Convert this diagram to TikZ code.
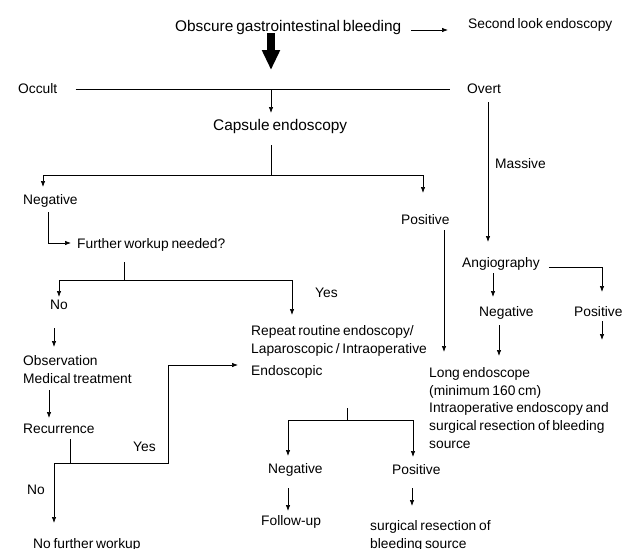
\documentclass[tikz,border=0pt]{standalone}
\usepackage{fontspec}
\setmainfont{Liberation Sans}[WordSpace=0.7]
\usepackage{tikz}
\usetikzlibrary{calc}
\usetikzlibrary{arrows.meta}
\tikzset{>=latex}
\tikzset{
  txt/.style={anchor=base west,inner sep=0pt,align=left,font=\fontsize{13.8}{17.6}\selectfont},
  big/.style={txt,font=\fontsize{15.4}{18}\selectfont},
  link/.style={-{Latex[length=6pt,width=4.5pt]},line width=0.7pt},
  plain/.style={line width=0.7pt},
  fat/.style={-{Triangle[length=20pt,width=17pt]},line width=7.5pt}
}

\begin{document}
\begin{tikzpicture}[x=1pt,y=-1pt]
\useasboundingbox (0,0) rectangle (622,549);
% top
\node[big] (obgi) at (175,31) {Obscure gastrointestinal bleeding};
\node[txt] (second) at (468,28) {Second look endoscopy};
\node[txt] (occult) at (18,93) {Occult};
\node[txt] (overt) at (467,93) {Overt};
\node[big] (capsule) at (213,130) {Capsule endoscopy};
\coordinate (hub) at (271,89);
\draw[link] ($(obgi.base east)+(10,-1)$) -- ($(second.base west)+(-20,2)$);
\draw[fat] ($(obgi.base west)+(96,2)$) -- ($(hub)+(0,-19)$);
\draw[plain] ($(occult.base east)+(18,-4)$) -- ($(overt.base west)+(-17,-4)$);
\draw[link] (hub) -- ($(capsule.base west)+(58,-17)$);
% capsule branches
\node[txt] (cneg) at (23,204) {Negative};
\node[txt] (cpos) at (401,224) {Positive};
\coordinate (csplit) at (271,175);
\draw[plain] ($(capsule.base west)+(58,15)$) -- (csplit);
\draw[link] (csplit) -| ($(cneg.base west)+(20,-17)$);
\draw[link] (csplit) -| ($(cpos.base west)+(22,-31)$);
\node[txt] (further) at (77,248) {Further workup needed?};
\draw[link] ($(cneg.base west)+(25,8)$) |- ($(further.base west)+(-6,-5)$);
% further workup
\node[txt] (fno) at (50,309) {No};
\node[txt] (yesA) at (315,297) {Yes};
\node[txt] (rep) at (251,375) {Repeat routine endoscopy/\\Laparoscopic / Intraoperative\\[4pt]Endoscopic};
\coordinate (fsplit) at (124,280);
\draw[plain] ($(further.base west)+(47,14)$) -- (fsplit);
\draw[link] (fsplit) -| ($(fno.base west)+(9,-12)$);
\draw[link] (fsplit) -| ($(rep.base west)+(41,-60)$);
\node[txt] (obs) at (23,383) {Observation\\Medical treatment};
\draw[link] ($(fno.base west)+(4,19)$) -- ($(obs.base west)+(31,-36)$);
\node[txt] (recur) at (23,433) {Recurrence};
\draw[link] ($(obs.base west)+(26,7)$) -- ($(recur.base west)+(26,-15)$);
% recurrence
\node[txt] (yesB) at (133,451) {Yes};
\node[txt] (noB) at (27,494) {No};
\node[txt] (nowork) at (33,548) {No further workup};
\coordinate (rsplit) at (70,463);
\draw[plain] ($(recur.base west)+(47,6)$) -- (rsplit);
\draw[link] (rsplit) -| ($(nowork.base west)+(21,-25)$);
\draw[link] (rsplit) -| ($(rep.base west)+(-83,-10)$) -- ($(rep.base west)+(-13,-10)$);
% overt
\node[txt] (massive) at (495,168) {Massive};
\node[txt] (angio) at (462,267) {Angiography};
\node[txt] (aneg) at (479,316) {Negative};
\node[txt] (apos) at (574,316) {Positive};
\draw[link] ($(overt.base west)+(21,9)$) -- ($(angio.base west)+(26,-25)$);
\draw[link] ($(angio.base west)+(31,6)$) -- ($(aneg.base west)+(14,-19)$);
\draw[link] ($(angio.base east)+(9,0)$) -| ($(apos.base west)+(28,-24)$);
\draw[link] ($(apos.base west)+(28,5)$) -- ($(apos.base west)+(28,24)$);
\node[txt] (longendo) at (429,448) {Long endoscope\\(minimum 160 cm)\\Intraoperative endoscopy and\\surgical resection of bleeding\\source};
\draw[link] ($(aneg.base west)+(20,9)$) -- ($(longendo.base west)+(70,-92)$);
\draw[link] ($(cpos.base west)+(43,6)$) -- ($(longendo.base west)+(15,-96)$);
% bottom
\node[txt] (bneg) at (268,473) {Negative};
\node[txt] (bpos) at (392,474) {Positive};
\node[txt] (follow) at (261,525) {Follow-up};
\node[txt] (surg) at (370,548) {surgical resection of\\bleeding source};
\coordinate (lsplit) at (347,420);
\draw[plain] ($(rep.base west)+(96,33)$) -- (lsplit);
\draw[link] (lsplit) -| ($(bneg.base west)+(20,-17)$);
\draw[link] (lsplit) -| ($(bpos.base west)+(21,-17)$);
\draw[link] ($(bneg.base west)+(20,15)$) -- ($(follow.base west)+(27,-14)$);
\draw[link] ($(bpos.base west)+(20,14)$) -- ($(surg.base west)+(42,-42)$);
\end{tikzpicture}
\end{document}
